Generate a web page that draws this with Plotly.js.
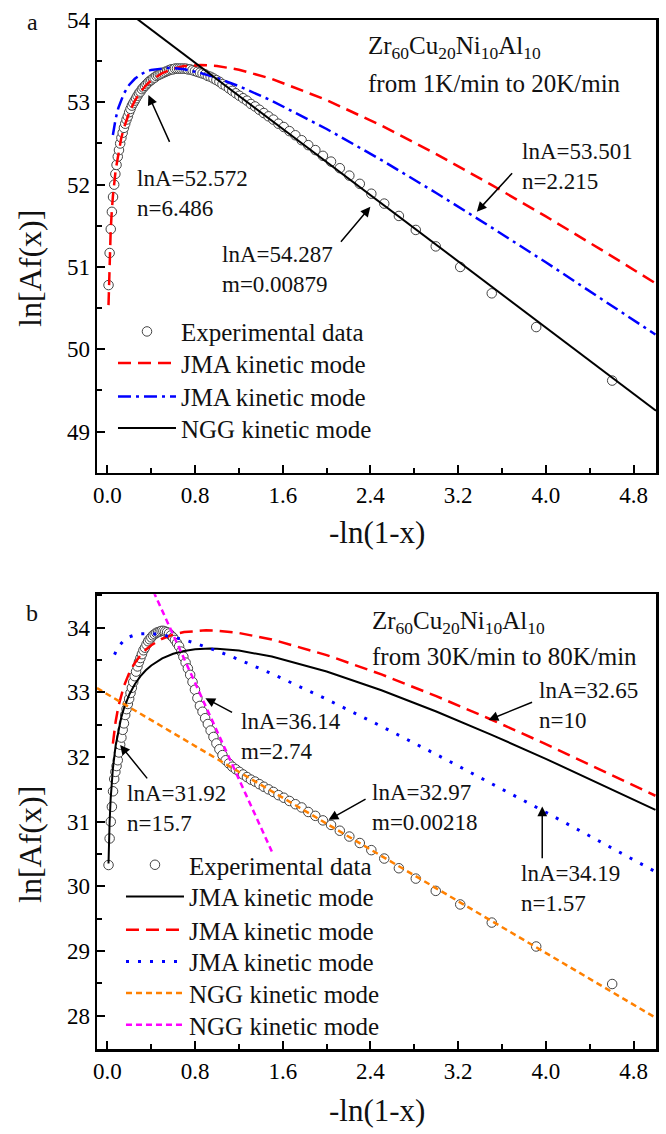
<!DOCTYPE html>
<html><head><meta charset="utf-8">
<script src="https://cdn.plot.ly/plotly-3.0.1.min.js"></script>
<style>html,body{margin:0;padding:0;background:#fff}#chart{width:666px;height:1134px}</style>
</head><body><div id="chart"></div>
<script>
// -ln(1-x) positions of the experimental points (shared by both panels)
const expX = [0.0101,0.0202,0.0305,0.0408,0.0513,0.0619,0.0726,0.0834,0.0943,0.1054,
0.1165,0.1278,0.1393,0.1508,0.1625,0.1744,0.1863,0.1985,0.2107,0.2231,
0.2357,0.2485,0.2614,0.2744,0.2877,0.3011,0.3147,0.3285,0.3425,0.3567,
0.3711,0.3857,0.4005,0.4155,0.4308,0.4463,0.4620,0.4780,0.4943,0.5108,
0.5276,0.5447,0.5621,0.5798,0.5978,0.6162,0.6349,0.6539,0.6733,0.6931,
0.7133,0.7340,0.7550,0.7765,0.7985,0.8210,0.8440,0.8675,0.8916,0.9163,
0.9416,0.9676,0.9943,1.0217,1.0498,1.0788,1.1087,1.1394,1.1712,1.2040,
1.2379,1.2730,1.3093,1.3471,1.3863,1.4271,1.4697,1.5141,1.5606,1.6094,
1.6607,1.7148,1.7720,1.8326,1.8971,1.9661,2.0402,2.1203,2.2073,2.3026,
2.4079,2.5257,2.6593,2.8134,2.9957,3.2189,3.5066,3.9120,4.6052];

// panel a: experimental ln[Af(x)]
const expTopY = [50.78,51.17,51.46,51.67,51.85,52.00,52.13,52.24,52.34,52.42,
52.50,52.57,52.63,52.69,52.74,52.79,52.83,52.88,52.92,52.96,
52.99,53.02,53.05,53.08,53.11,53.13,53.16,53.18,53.20,53.22,
53.24,53.26,53.27,53.29,53.30,53.32,53.33,53.34,53.35,53.36,
53.37,53.38,53.39,53.40,53.40,53.41,53.41,53.41,53.41,53.41,
53.41,53.40,53.40,53.39,53.38,53.37,53.36,53.35,53.34,53.32,
53.31,53.29,53.27,53.25,53.22,53.20,53.17,53.14,53.11,53.08,
53.05,53.02,52.98,52.95,52.91,52.87,52.83,52.79,52.74,52.70,
52.65,52.60,52.54,52.48,52.42,52.35,52.28,52.20,52.11,52.01,
51.89,51.77,51.62,51.45,51.25,51.00,50.68,50.27,49.62];

// panel b: experimental ln[Af(x)]
const expBotY = [30.33,30.74,31.00,31.23,31.47,31.66,31.77,31.86,31.95,32.07,
32.19,32.30,32.42,32.52,32.65,32.74,32.82,32.90,32.99,33.07,
33.16,33.25,33.32,33.40,33.47,33.53,33.59,33.65,33.69,33.74,
33.79,33.82,33.85,33.88,33.90,33.92,33.93,33.94,33.95,33.95,
33.94,33.93,33.91,33.88,33.85,33.81,33.76,33.71,33.63,33.55,
33.46,33.37,33.27,33.16,33.04,32.91,32.79,32.70,32.60,32.51,
32.41,32.31,32.21,32.12,32.03,31.95,31.90,31.85,31.81,31.77,
31.73,31.69,31.65,31.62,31.58,31.54,31.50,31.46,31.41,31.37,
31.32,31.27,31.22,31.15,31.09,31.02,30.95,30.86,30.77,30.67,
30.56,30.43,30.28,30.12,29.93,29.72,29.44,29.07,28.49];

// panel a model curves
const aRedX  = [0.01,0.02,0.03,0.04,0.05,0.075,0.1,0.125,0.15,0.2,0.25,0.3,0.35,0.4,0.5,0.6,0.7,0.85,1.0,1.2,1.5,2,2.5,3,3.5,4,4.5,5.0];
const aRedY  = [50.537,51.113,51.446,51.679,51.858,52.176,52.394,52.558,52.687,52.880,53.019,53.123,53.204,53.267,53.355,53.409,53.440,53.454,53.442,53.396,53.285,53.028,52.717,52.371,52.001,51.614,51.214,50.803];
const aBlueX = [0.05,0.06,0.075,0.1,0.125,0.15,0.2,0.25,0.3,0.35,0.4,0.5,0.55,0.6,0.7,0.85,1.0,1.2,1.5,2,2.5,3,3.5,4,4.5,5.0];
const aBlueY = [52.603,52.693,52.800,52.933,53.031,53.106,53.214,53.286,53.336,53.371,53.394,53.416,53.418,53.416,53.401,53.357,53.296,53.196,53.019,52.676,52.299,51.899,51.484,51.057,50.621,50.179];
const aNggX  = [0.2,1.0,2.0,3.0,4.0,5.005];
const aNggY  = [54.084,53.280,52.275,51.270,50.265,49.255];

// panel b model curves
const bBlackX = [0.01,0.0125,0.015,0.02,0.03,0.04,0.05,0.075,0.1,0.125,0.15,0.2,0.25,0.3,0.35,0.4,0.5,0.6,0.7,0.8,0.936,1.0,1.2,1.5,2,2.5,3,3.5,4,4.5,5.0];
const bBlackY = [30.352,30.559,30.727,30.991,31.361,31.620,31.819,32.174,32.418,32.602,32.748,32.967,33.126,33.247,33.341,33.416,33.525,33.596,33.640,33.665,33.676,33.674,33.645,33.554,33.323,33.032,32.703,32.347,31.972,31.582,31.181];
const bRedX = [0.05,0.06,0.075,0.1,0.125,0.15,0.2,0.25,0.3,0.35,0.4,0.5,0.6,0.7,0.9,1.0,1.2,1.5,2,2.5,3,3.5,4,4.5,5.0];
const bRedY = [32.206,32.361,32.546,32.780,32.956,33.095,33.304,33.455,33.569,33.658,33.728,33.829,33.893,33.932,33.958,33.953,33.917,33.818,33.576,33.277,32.941,32.580,32.200,31.806,31.401];
const bBlueX = [0.065,0.07,0.085,0.1,0.125,0.15,0.2,0.25,0.3,0.363,0.4,0.5,0.6,0.7,0.8,1.0,1.2,1.5,2,2.5,3,3.5,4,4.5,5.0];
const bBlueY = [33.584,33.606,33.661,33.705,33.761,33.802,33.857,33.888,33.904,33.910,33.908,33.889,33.856,33.812,33.760,33.641,33.507,33.288,32.893,32.474,32.040,31.596,31.145,30.687,30.226];
const bOrangeX = [-0.095,0.5,1,2,3,4,5.005];
const bOrangeY = [33.065,32.47,31.97,30.97,29.97,28.97,27.965];
const bMagX = [0.42,1.50];
const bMagY = [34.56,30.54];

const legendLabels = ['Experimental data','JMA kinetic mode','NGG kinetic mode'];

const FONT = 'Liberation Serif, Times New Roman, serif';
const mk = {symbol:'circle', size:9.5, color:'#fff', line:{color:'#444', width:1}};

const traces = [
  {x:expX, y:expTopY, xaxis:'x', yaxis:'y', mode:'markers', marker:mk, name:legendLabels[0], legend:'legend'},
  {x:aRedX, y:aRedY, xaxis:'x', yaxis:'y', mode:'lines', line:{color:'#ff0000', width:2.5, dash:'13px,7px'}, name:legendLabels[1], legend:'legend2'},
  {x:aBlueX, y:aBlueY, xaxis:'x', yaxis:'y', mode:'lines', line:{color:'#0000ff', width:2.5, dash:'13px,5px,3px,5px'}, name:legendLabels[1], legend:'legend3'},
  {x:aNggX, y:aNggY, xaxis:'x', yaxis:'y', mode:'lines', line:{color:'#000', width:2}, name:legendLabels[2], legend:'legend4'},

  {x:expX, y:expBotY, xaxis:'x2', yaxis:'y2', mode:'markers', marker:mk, name:legendLabels[0], legend:'legend5'},
  {x:bBlackX, y:bBlackY, xaxis:'x2', yaxis:'y2', mode:'lines', line:{color:'#000', width:2}, name:legendLabels[1], legend:'legend6'},
  {x:bRedX, y:bRedY, xaxis:'x2', yaxis:'y2', mode:'lines', line:{color:'#ff0000', width:2.5, dash:'13px,7px'}, name:legendLabels[1], legend:'legend7'},
  {x:bBlueX, y:bBlueY, xaxis:'x2', yaxis:'y2', mode:'lines', line:{color:'#0000ff', width:3, dash:'3px,9px'}, name:legendLabels[1], legend:'legend8'},
  {x:bOrangeX, y:bOrangeY, xaxis:'x2', yaxis:'y2', mode:'lines', line:{color:'#ff8000', width:2.5, dash:'6px,4px'}, name:legendLabels[2], legend:'legend9'},
  {x:bMagX, y:bMagY, xaxis:'x2', yaxis:'y2', mode:'lines', line:{color:'#ff00ff', width:2.5, dash:'6px,4px'}, name:legendLabels[2], legend:'legend10'}
];

function xax(anchor){
  return {anchor:anchor, domain:[0,1], range:[-0.095,5.005], tick0:0, dtick:0.8, tickformat:'.1f',
    ticks:'inside', ticklen:8, tickwidth:2, tickcolor:'#000', showline:true, linewidth:2.5, linecolor:'#000',
    mirror:true, showgrid:false, zeroline:false, tickfont:{size:23, color:'#000', family:FONT},
    minor:{tick0:0, dtick:0.4, ticks:'inside', ticklen:5, tickwidth:2, tickcolor:'#000', showgrid:false}};
}
function yax(anchor, domain, range){
  return {anchor:anchor, domain:domain, range:range, tick0:0, dtick:1,
    ticks:'inside', ticklen:8, tickwidth:2, tickcolor:'#000', showline:true, linewidth:2.5, linecolor:'#000',
    mirror:true, showgrid:false, zeroline:false, tickfont:{size:23, color:'#000', family:FONT},
    minor:{tick0:0, dtick:0.5, ticks:'inside', ticklen:5, tickwidth:2, tickcolor:'#000', showgrid:false}};
}

function txt(x, y, t, xr, yr, size){
  return {x:x, y:y, xref:xr, yref:yr, text:t, showarrow:false, xanchor:'left', yanchor:'middle', align:'left',
    font:{size:size||23, color:'#111', family:FONT}};
}
function ptxt(x, y, t, size, angle){
  return {x:x, y:y, xref:'paper', yref:'paper', text:t, showarrow:false, xanchor:'center', yanchor:'middle',
    textangle:angle||0, font:{size:size, color:'#111', family:FONT}};
}
function arrow(tx, ty, ax, ay, xr, yr){
  return {x:tx, y:ty, ax:ax, ay:ay, xref:xr, yref:yr, axref:xr, ayref:yr, text:'', showarrow:true,
    arrowhead:2, arrowsize:1.3, arrowwidth:1.5, arrowcolor:'#000'};
}

const annotations = [
  ptxt(-0.116, 0.998, 'a', 24),
  ptxt(-0.116, 0.4237, 'b', 24),
  ptxt(-0.12, 0.759, 'ln[Af(x)]', 32, -90),
  ptxt(-0.12, 0.1992, 'ln[Af(x)]', 32, -90),
  ptxt(0.5, 0.5015, '-ln(1-x)', 31),
  ptxt(0.5, -0.0593, '-ln(1-x)', 31),
  // panel a texts
  txt(2.363, 53.66, 'Zr<sub>60</sub>Cu<sub>20</sub>Ni<sub>10</sub>Al<sub>10</sub>', 'x', 'y', 25),
  txt(2.363, 53.234, 'from 1K/min to 20K/min', 'x', 'y', 25),
  txt(0.253, 51.898, 'lnA=52.572<br>n=6.486', 'x', 'y'),
  txt(1.029, 50.975, 'lnA=54.287<br>m=0.00879', 'x', 'y'),
  txt(3.766, 52.226, 'lnA=53.501<br>n=2.215', 'x', 'y'),
  arrow(0.374, 53.089, 0.573, 52.502, 'x', 'y'),
  arrow(2.399, 51.731, 2.119, 51.287, 'x', 'y'),
  arrow(3.370, 51.671, 3.705, 52.157, 'x', 'y'),
  // panel b texts
  txt(2.396, 34.073, 'Zr<sub>60</sub>Cu<sub>20</sub>Ni<sub>10</sub>Al<sub>10</sub>', 'x2', 'y2', 25),
  txt(2.396, 33.552, 'from 30K/min to 80K/min', 'x2', 'y2', 25),
  txt(3.915, 32.793, 'lnA=32.65<br>n=10', 'x2', 'y2'),
  txt(1.196, 32.315, 'lnA=36.14<br>m=2.74', 'x2', 'y2'),
  txt(0.162, 31.209, 'lnA=31.92<br>n=15.7', 'x2', 'y2'),
  txt(2.396, 31.221, 'lnA=32.97<br>m=0.00218', 'x2', 'y2'),
  txt(3.751, 29.961, 'lnA=34.19<br>n=1.57', 'x2', 'y2'),
  arrow(3.477, 32.573, 3.888, 32.856, 'x2', 'y2'),
  arrow(0.894, 32.909, 1.151, 32.677, 'x2', 'y2'),
  arrow(0.116, 32.187, 0.374, 31.646, 'x2', 'y2'),
  arrow(2.018, 31.028, 2.369, 31.363, 'x2', 'y2'),
  arrow(3.967, 31.233, 3.967, 30.41, 'x2', 'y2')
];

function leg(x, y){
  return {x:x, y:y, xanchor:'left', yanchor:'middle', bgcolor:'rgba(0,0,0,0)', itemwidth:58,
    font:{size:25, family:FONT, color:'#111'}, tracegroupgap:0};
}

const layout = {
  width:666, height:1134,
  margin:{l:97, r:10, t:20, b:85},
  paper_bgcolor:'#fff', plot_bgcolor:'#fff',
  font:{family:FONT, color:'#111'},
  xaxis:xax('y'), yaxis:yax('x', [0.5598,1], [48.498,54.0]),
  xaxis2:xax('y2'), yaxis2:yax('x2', [0,0.4419], [27.485,34.516]),
  legend:leg(0.0286, 0.6971),
  legend2:leg(0.0286, 0.6664),
  legend3:leg(0.0286, 0.6339),
  legend4:leg(0.0286, 0.6032),
  legend5:leg(0.0429, 0.1788),
  legend6:leg(0.0429, 0.1480),
  legend7:leg(0.0429, 0.1156),
  legend8:leg(0.0429, 0.0848),
  legend9:leg(0.0429, 0.0541),
  legend10:leg(0.0429, 0.0233),
  annotations:annotations,
  showlegend:true
};

Plotly.newPlot('chart', traces, layout, {staticPlot:true, displayModeBar:false});
</script></body></html>
